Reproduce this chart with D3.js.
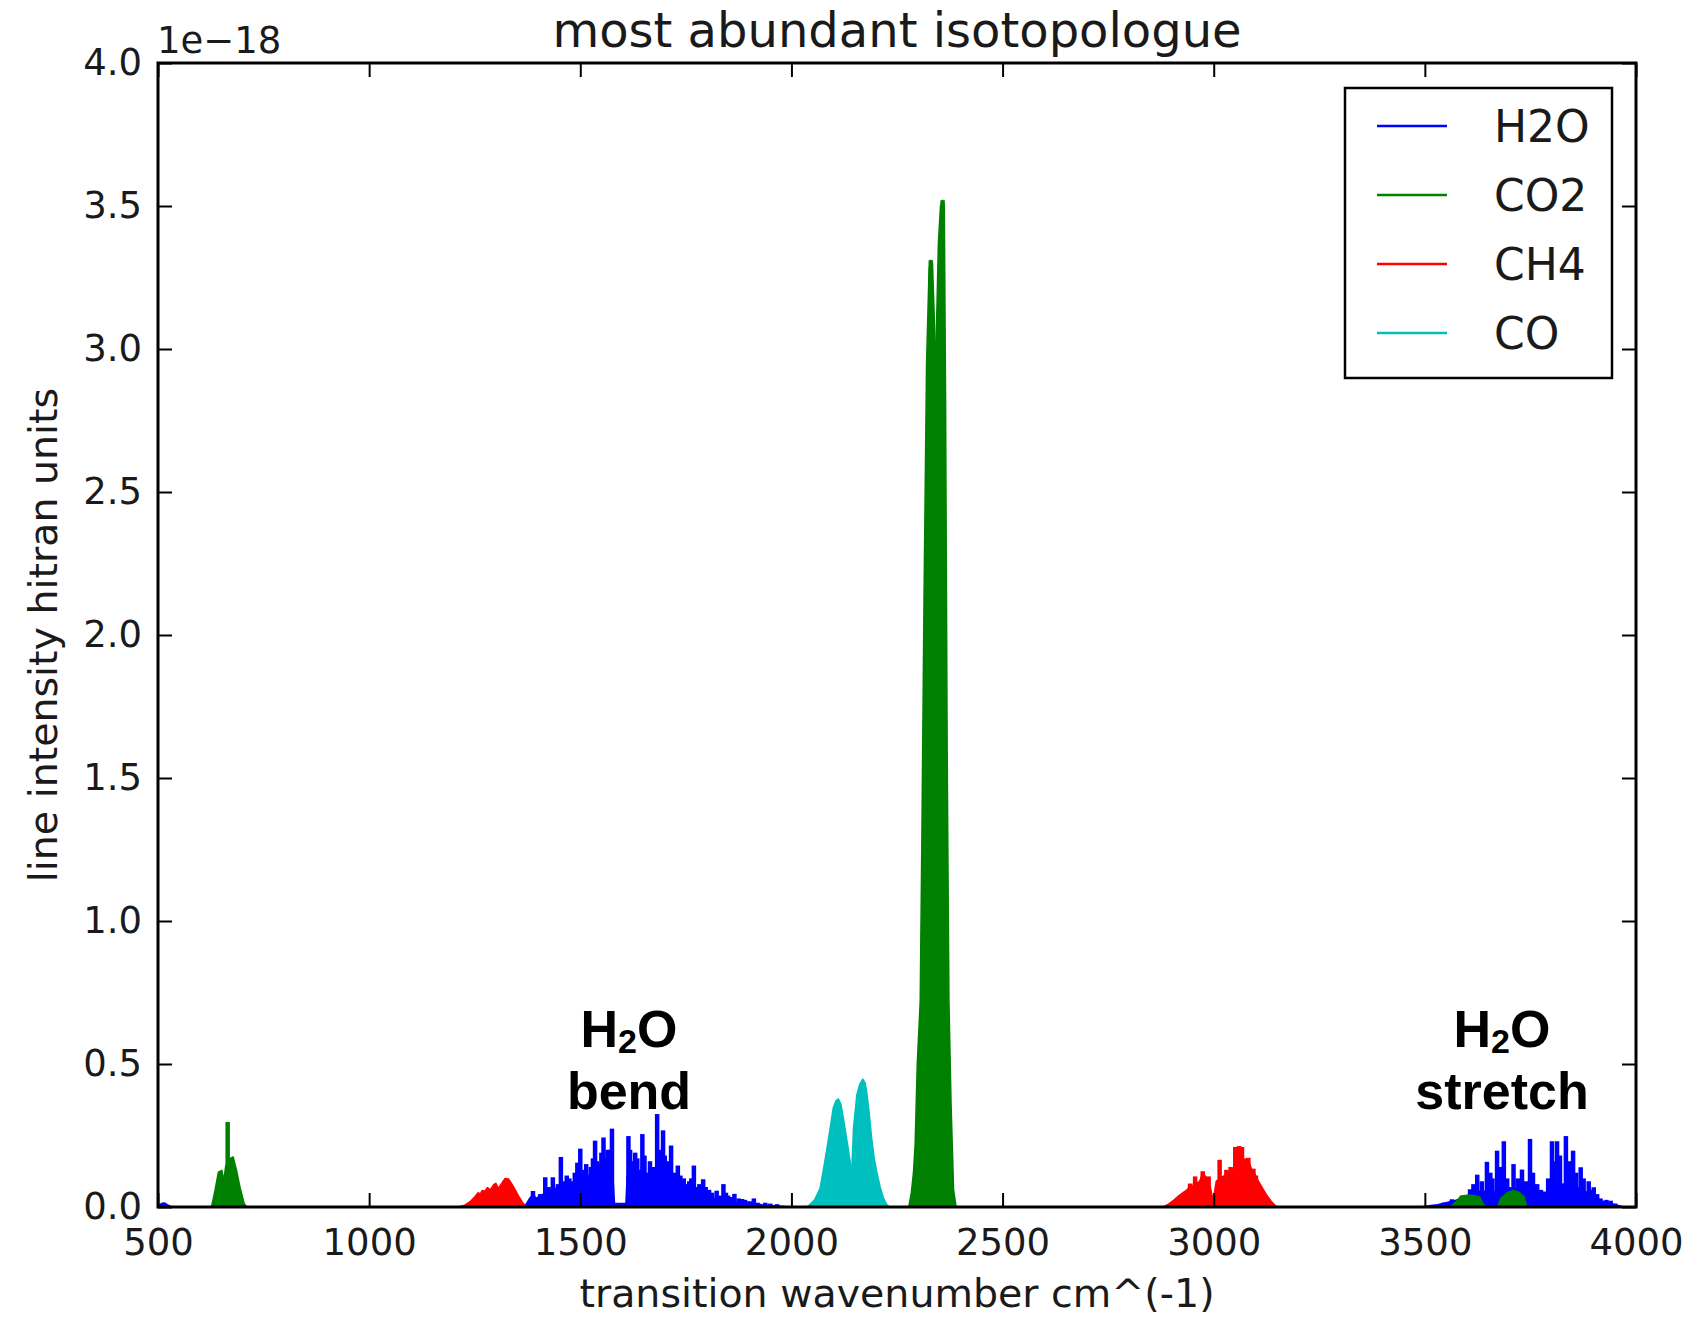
<!DOCTYPE html>
<html>
<head>
<meta charset="utf-8">
<script src="https://cdn.jsdelivr.net/npm/d3@7"></script>
<style>
  html, body { margin: 0; padding: 0; background: #ffffff; }
  svg { display: block; }
</style>
</head>
<body>
<svg id="chart" width="1692" height="1320"></svg>
<script>
// ---------------- DATA (intensity in units of 1e-18) ----------------
const title = "most abundant isotopologue";
const xLabel = "transition wavenumber cm^(-1)";
const yLabel = "line intensity hitran units";
const offsetLabel = "1e\u221218";
const xTicks = [500, 1000, 1500, 2000, 2500, 3000, 3500, 4000];
const yTicks = [0.0, 0.5, 1.0, 1.5, 2.0, 2.5, 3.0, 3.5, 4.0];
const legendNames = ["H2O", "CO2", "CH4", "CO"];

// H2O envelope (wavenumber, intensity)
const h2oBand = [
  [500,0.004],[508,0.012],[515,0.014],[522,0.008],[530,0.002],[540,0],
  [1360,0],[1372,0.01],[1380,0.03],[1388,0.045],[1396,0.03],[1405,0.04],[1420,0.05],
  [1440,0.065],[1460,0.07],[1480,0.075],[1500,0.08],[1520,0.085],[1540,0.09],[1560,0.09],
  [1578,0.09],[1581,0.012],[1608,0.012],[1611,0.11],[1630,0.11],[1650,0.12],[1670,0.11],
  [1690,0.11],[1710,0.09],[1730,0.075],[1750,0.068],[1770,0.058],[1790,0.048],[1810,0.032],
  [1830,0.027],[1850,0.022],[1870,0.016],[1890,0.011],[1910,0.012],[1930,0.008],[1950,0.005],
  [1975,0.003],[1995,0],
  [3490,0],[3510,0.004],[3530,0.008],[3550,0.015],[3570,0.022],[3590,0.032],[3610,0.045],
  [3630,0.055],[3650,0.055],[3670,0.055],[3690,0.055],[3710,0.065],[3730,0.055],[3745,0.055],
  [3760,0.055],[3775,0.045],[3785,0.045],[3795,0.075],[3810,0.078],[3830,0.08],[3850,0.075],
  [3870,0.062],[3890,0.047],[3905,0.032],[3920,0.021],[3940,0.012],[3955,0.006],[3970,0],
  [4000,0]
];
// H2O strong lines (wavenumber, intensity)
const h2oLines = [
  [1388,0.056],[1405,0.045],[1417,0.104],[1425,0.07],[1435,0.104],[1443,0.065],[1447,0.08],
  [1454,0.175],[1462,0.09],[1468,0.11],[1474,0.1],[1480,0.09],[1487,0.12],[1493,0.155],
  [1500,0.204],[1505,0.13],[1510,0.12],[1514,0.15],[1519,0.113],[1525,0.14],[1530,0.17],
  [1535,0.232],[1540,0.16],[1545,0.15],[1550,0.19],[1555,0.243],[1560,0.17],[1565,0.2],
  [1570,0.2],[1575,0.274],
  [1614,0.248],[1618,0.2],[1622,0.16],[1626,0.15],[1630,0.19],[1635,0.17],[1640,0.13],
  [1647,0.255],[1652,0.18],[1660,0.12],[1665,0.16],[1672,0.14],[1682,0.325],[1688,0.2],
  [1696,0.268],[1700,0.18],[1705,0.16],[1710,0.13],[1715,0.215],[1722,0.12],[1726,0.1],
  [1731,0.145],[1737,0.11],[1745,0.1],[1752,0.08],[1758,0.09],[1763,0.1],[1769,0.145],
  [1775,0.07],[1782,0.08],[1791,0.097],[1797,0.07],[1805,0.06],[1812,0.05],[1823,0.057],
  [1830,0.04],[1839,0.08],[1845,0.05],[1850,0.04],[1858,0.035],[1865,0.046],[1875,0.03],
  [1883,0.028],[1890,0.025],[1895,0.02],[1903,0.02],[1911,0.03],[1920,0.015],[1938,0.015],
  [1950,0.012],[1966,0.01],
  [3544,0.015],[3564,0.027],[3590,0.04],[3607,0.062],[3615,0.08],[3624,0.113],[3635,0.09],
  [3647,0.158],[3655,0.12],[3660,0.1],[3671,0.197],[3678,0.14],[3687,0.23],[3695,0.1],
  [3700,0.07],[3710,0.15],[3720,0.1],[3730,0.131],[3740,0.09],[3749,0.238],[3756,0.12],
  [3766,0.08],[3775,0.06],[3783,0.054],[3792,0.1],[3801,0.23],[3806,0.16],[3813,0.23],
  [3820,0.18],[3834,0.248],[3842,0.16],[3851,0.197],[3858,0.12],[3869,0.139],[3876,0.1],
  [3888,0.09],[3895,0.06],[3900,0.069],[3908,0.045],[3916,0.03],[3930,0.025],[3940,0.022],
  [3951,0.012]
];

// CO2 envelope
const co2Band = [
  [500,0],[620,0],[627,0.002],[635,0.058],[643,0.122],[651,0.128],[656,0.093],
  [660,0.14],[665,0.16],[670,0.169],[678,0.175],[686,0.128],[694,0.07],[704,0.012],[710,0],
  [2278,0],[2284,0.05],[2289,0.12],[2293,0.22],[2298,0.5],[2305,0.72],[2309,1.3],
  [2314,2.13],[2320,2.95],[2326,3.28],[2330,3.31],[2334,3.3],[2338,3.12],[2341,2.98],
  [2342.3,1.97],[2343.6,3.08],[2348,3.37],[2353,3.5],[2358,3.52],[2362,3.5],[2365,2.83],
  [2369,1.55],[2373,0.72],[2378,0.36],[2384,0.06],[2390,0],
  [3560,0],[3575,0.02],[3585,0.038],[3600,0.041],[3615,0.04],[3630,0.035],[3638,0.01],
  [3645,0],[3672,0],[3680,0.03],[3695,0.05],[3710,0.058],[3725,0.05],[3735,0.035],
  [3742,0],[4000,0]
];
const co2Lines = [[665,0.297],[2330,3.31],[2358,3.52]];

// CH4 envelope
const ch4Band = [
  [500,0],[1210,0],[1225,0.005],[1240,0.02],[1250,0.035],[1258,0.05],[1263,0.045],
  [1268,0.058],[1274,0.055],[1280,0.068],[1287,0.06],[1295,0.078],[1300,0.083],
  [1306,0.065],[1315,0.085],[1322,0.1],[1330,0.098],[1338,0.08],[1346,0.06],
  [1355,0.035],[1365,0.012],[1375,0],
  [2880,0],[2893,0.01],[2905,0.023],[2918,0.04],[2929,0.052],[2937,0.06],[2944,0.075],
  [2950,0.07],[2956,0.1],[2962,0.08],[2968,0.095],[2974,0.12],[2981,0.105],[2988,0.1],
  [2996,0.04],[3000,0.035],[3006,0.09],[3014,0.1],[3025,0.11],[3035,0.12],[3045,0.13],
  [3055,0.15],[3068,0.16],[3076,0.14],[3082,0.165],[3090,0.13],[3096,0.12],[3104,0.095],
  [3110,0.08],[3118,0.06],[3126,0.04],[3136,0.02],[3149,0],[4000,0]
];
const ch4Lines = [[2944,0.082],[2956,0.107],[2974,0.125],[2988,0.107],[3014,0.165],[3030,0.13],
  [3040,0.14],[3051,0.21],[3060,0.213],[3067,0.21],[3075,0.17],[3082,0.172],[3094,0.134],[3100,0.11]];

// CO envelope
const coBand = [
  [2030,0],[2040,0.003],[2055,0.025],[2068,0.066],[2078,0.15],[2088,0.24],[2099,0.346],
  [2105,0.37],[2111,0.378],[2117,0.36],[2123,0.311],[2133,0.218],[2139,0.16],[2142,0.1],
  [2145,0.2],[2147,0.276],[2155,0.393],[2162,0.43],[2169,0.447],[2174,0.435],[2178,0.405],
  [2184,0.33],[2190,0.24],[2196,0.17],[2202,0.124],[2210,0.07],[2218,0.031],[2225,0.01],
  [2232,0]
];
const coLines = [];

const seriesColors = ["#0000ff", "#008000", "#ff0000", "#00bfbf"];

// ---------------- LAYOUT ----------------
const svg = d3.select("#chart");
const L = 158, R = 1636, T = 63, B = 1207;
const x = d3.scaleLinear().domain([500, 4000]).range([L, R]);
const y = d3.scaleLinear().domain([0, 4]).range([B, T]);
const tickFont = "'DejaVu Sans', sans-serif";

svg.append("rect").attr("x", 0).attr("y", 0).attr("width", 1692).attr("height", 1320).attr("fill", "#fff");

const plot = svg.append("g");
svg.append("clipPath").attr("id", "clip").append("rect")
  .attr("x", L).attr("y", T).attr("width", R - L).attr("height", B - T);
plot.attr("clip-path", "url(#clip)");

const area = d3.area().x(d => x(d[0])).y0(y(0)).y1(d => y(d[1]));
const line = d3.line().x(d => x(d[0])).y(d => y(d[1]));

const series = [
  {band: h2oBand, lines: h2oLines},
  {band: co2Band, lines: co2Lines},
  {band: ch4Band, lines: ch4Lines},
  {band: coBand, lines: coLines}
];
series.forEach((s, i) => {
  const c = seriesColors[i];
  plot.append("path").datum(s.band).attr("d", area).attr("fill", c).attr("stroke", "none");
  plot.append("path").datum(s.band).attr("d", line).attr("fill", "none")
    .attr("stroke", c).attr("stroke-width", 1.5).attr("stroke-linejoin", "round");
  plot.selectAll(null).data(s.lines).enter().append("line")
    .attr("x1", d => x(d[0])).attr("x2", d => x(d[0]))
    .attr("y1", y(0)).attr("y2", d => y(d[1]))
    .attr("stroke", c).attr("stroke-width", 4.5);
});

// ---------------- AXES (ticks inward, all sides) ----------------
const tickLen = 14;
const axB = d3.axisBottom(x).tickValues(xTicks).tickSizeInner(-tickLen).tickSizeOuter(0).tickPadding(22).tickFormat(d3.format("d"));
const axT = d3.axisTop(x).tickValues(xTicks).tickSizeInner(-tickLen).tickSizeOuter(0).tickFormat("");
const axLft = d3.axisLeft(y).tickValues(yTicks).tickSizeInner(-tickLen).tickSizeOuter(0).tickPadding(16).tickFormat(d3.format(".1f"));
const axRt = d3.axisRight(y).tickValues(yTicks).tickSizeInner(-tickLen).tickSizeOuter(0).tickFormat("");

function styleAxis(g) {
  g.select(".domain").remove();
  g.selectAll(".tick line").attr("stroke", "#000").attr("stroke-width", 2);
  g.selectAll(".tick text").attr("fill", "#1a1a1a").style("font-family", tickFont).style("font-size", "37px");
}
svg.append("g").attr("transform", `translate(0,${B})`).call(axB).call(styleAxis);
svg.append("g").attr("transform", `translate(0,${T})`).call(axT).call(styleAxis);
svg.append("g").attr("transform", `translate(${L},0)`).call(axLft).call(styleAxis);
svg.append("g").attr("transform", `translate(${R},0)`).call(axRt).call(styleAxis);

// frame
svg.append("rect").attr("x", L).attr("y", T).attr("width", R - L).attr("height", B - T)
  .attr("fill", "none").attr("stroke", "#000").attr("stroke-width", 3);

// offset text
svg.append("text").attr("x", 157).attr("y", 53).text(offsetLabel)
  .style("font-family", tickFont).style("font-size", "37px").attr("fill", "#1a1a1a");

// title and labels
svg.append("text").attr("x", (L + R) / 2).attr("y", 47).attr("text-anchor", "middle")
  .text(title).style("font-family", tickFont).style("font-size", "48px").attr("fill", "#1a1a1a");
svg.append("text").attr("x", (L + R) / 2).attr("y", 1307).attr("text-anchor", "middle")
  .text(xLabel).style("font-family", tickFont).style("font-size", "39.5px").attr("fill", "#1a1a1a");
svg.append("text").attr("transform", `translate(57,${(T + B) / 2}) rotate(-90)`).attr("text-anchor", "middle")
  .text(yLabel).style("font-family", tickFont).style("font-size", "39.5px").attr("fill", "#1a1a1a");

// annotations
function annot(cx, word) {
  const g = svg.append("g").style("font-family", "'Liberation Sans', Arial, sans-serif")
    .style("font-weight", "bold").attr("fill", "#000");
  const t1 = g.append("text").attr("x", cx).attr("y", 1047).attr("text-anchor", "middle").style("font-size", "52px");
  t1.append("tspan").text("H");
  t1.append("tspan").text("2").style("font-size", "34px").attr("dy", 6);
  t1.append("tspan").text("O").attr("dy", -6);
  g.append("text").attr("x", cx).attr("y", 1109).attr("text-anchor", "middle").style("font-size", "52px").text(word);
}
annot(629, "bend");
annot(1502, "stretch");

// legend
const lg = svg.append("g");
lg.append("rect").attr("x", 1345).attr("y", 88).attr("width", 267).attr("height", 290)
  .attr("fill", "#fff").attr("stroke", "#000").attr("stroke-width", 2.5);
legendNames.forEach((n, i) => {
  const yy = 126 + i * 69;
  lg.append("line").attr("x1", 1377).attr("x2", 1447).attr("y1", yy).attr("y2", yy)
    .attr("stroke", seriesColors[i]).attr("stroke-width", 2.5);
  lg.append("text").attr("x", 1494).attr("y", yy).attr("dy", "0.36em").text(n)
    .style("font-family", tickFont).style("font-size", "44px").attr("fill", "#1a1a1a");
});
</script>
</body>
</html>
